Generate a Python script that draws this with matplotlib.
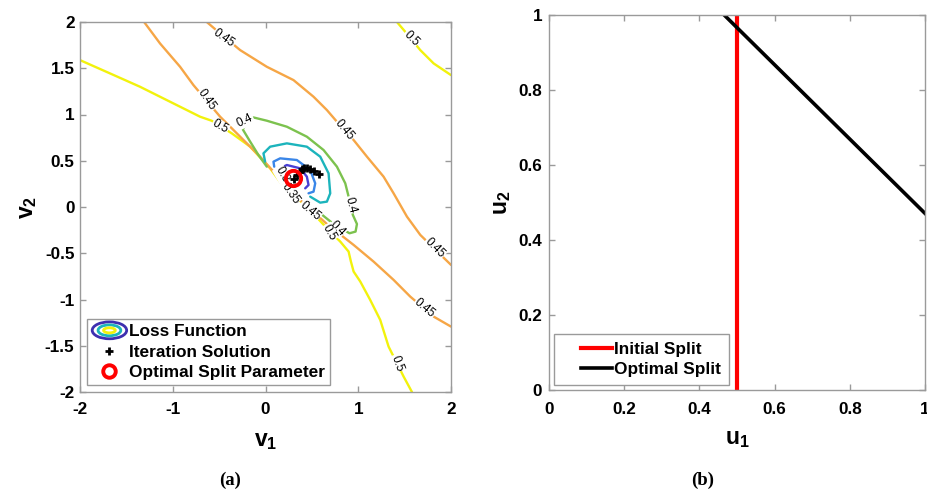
import matplotlib
matplotlib.use('Agg')
import matplotlib.pyplot as plt
from matplotlib.patches import Ellipse
from matplotlib.legend_handler import HandlerBase
from matplotlib.lines import Line2D

plt.rcParams['font.family'] = 'Liberation Sans'
plt.rcParams['mathtext.fontset'] = 'custom'
plt.rcParams['mathtext.bf'] = 'Liberation Sans:bold'
plt.rcParams['mathtext.rm'] = 'Liberation Sans:bold'
plt.rcParams['mathtext.it'] = 'Liberation Sans:bold'

# ---- panel (a): loss contours (v1, v2) ----
c050_a_x = [-2.0, -1.676, -1.353, -0.993, -0.705, -0.579, -0.363, -0.165, 0.050, 0.194, 0.446,
            0.662, 0.806, 0.896, 0.921, 0.950, 1.022, 1.129, 1.237, 1.327, 1.489, 1.579]
c050_a_y = [1.588, 1.444, 1.300, 1.120, 0.976, 0.932, 0.796, 0.652, 0.418, 0.220, 0.004,
            -0.230, -0.374, -0.482, -0.590, -0.698, -0.806, -1.005, -1.221, -1.509, -1.833, -2.0]
c050_b_x = [1.417, 1.507, 1.669, 1.813, 2.0]
c050_b_y = [2.0, 1.894, 1.696, 1.552, 1.426]

c045_a_x = [-0.633, -0.489, -0.273, 0.014, 0.302, 0.518, 0.662, 0.770, 0.950, 1.094,
            1.273, 1.381, 1.525, 1.669, 2.0]
c045_a_y = [2.0, 1.876, 1.696, 1.516, 1.372, 1.192, 1.048, 0.922, 0.724, 0.544,
            0.328, 0.148, -0.104, -0.302, -0.626]
c045_b_x = [-1.309, -1.137, -0.921, -0.777, -0.489, -0.273, -0.058, 0.086, 0.230, 0.446,
            0.662, 0.950, 1.165, 1.381, 1.561, 1.813, 2.0]
c045_b_y = [2.0, 1.768, 1.516, 1.318, 0.976, 0.760, 0.544, 0.382, 0.202, 0.011,
            -0.184, -0.410, -0.590, -0.788, -0.969, -1.185, -1.293]

c040_x = [0.014, -0.076, -0.165, -0.245, -0.183, -0.129, 0.014, 0.230, 0.446, 0.626, 0.770,
          0.860, 0.896, 0.942, 0.986, 0.971, 0.906, 0.734, 0.590, 0.446]
c040_y = [0.436, 0.562, 0.706, 0.839, 0.947, 0.968, 0.933, 0.868, 0.760, 0.616, 0.436,
          0.256, 0.112, -0.086, -0.184, -0.266, -0.284, -0.184, -0.068, 0.022]

c035_x = [-0.004, -0.022, 0.050, 0.230, 0.446, 0.590, 0.680, 0.698, 0.662, 0.590, 0.482]
c035_y = [0.490, 0.580, 0.652, 0.688, 0.652, 0.544, 0.364, 0.148, 0.058, 0.047, 0.112]

c030_x = [0.094, 0.086, 0.158, 0.338, 0.482, 0.536, 0.518, 0.464]
c030_y = [0.436, 0.490, 0.526, 0.508, 0.400, 0.256, 0.166, 0.148]

c025_x = [0.158, 0.230, 0.374, 0.446, 0.464, 0.428]
c025_y = [0.418, 0.454, 0.418, 0.328, 0.238, 0.202]

# contour labels: text, position, rotation
clabel_text = ['0.45', '0.45', '0.5', '0.45', '0.45', '0.45', '0.5', '0.5',
               '0.4', '0.4', '0.4', '0.5', '0.3', '0.35', '0.45']
clabel_x = [-0.446, -0.633, -0.489, 0.853, 1.824, 1.716, 1.572, 1.417,
            -0.219, 0.914, 0.777, 0.691, 0.176, 0.266, 0.482]
clabel_y = [1.822, 1.156, 0.868, 0.832, -0.446, -1.095, 1.822, -1.689,
            0.932, 0.022, -0.230, -0.274, 0.346, 0.148, -0.040]
clabel_rot = [-35, -55, -30, -50, -45, -40, -45, -70,
              25, -75, -45, -60, -60, -55, -40]

iter_v1 = [0.302, 0.338, 0.367, 0.392, 0.410, 0.446, 0.482, 0.518, 0.572]
iter_v2 = [0.299, 0.346, 0.382, 0.407, 0.425, 0.418, 0.407, 0.392, 0.356]
opt_v1 = [0.30]
opt_v2 = [0.31]

v_ticks_x = [-2, -1, 0, 1, 2]
v_ticks_y = [-2, -1.5, -1, -0.5, 0, 0.5, 1, 1.5, 2]

# ---- panel (b): split lines (u1, u2) ----
initial_u1 = [0.5, 0.5]
initial_u2 = [0.0, 1.0]
optimal_u1 = [0.466, 1.0]
optimal_u2 = [1.0, 0.471]
u_ticks = [0, 0.2, 0.4, 0.6, 0.8, 1]

col = {'0.25': '#4a40d4', '0.3': '#3a86e8', '0.35': '#1cb4bc',
       '0.4': '#7cc24e', '0.45': '#f6a646', '0.5': '#f2f20c'}
contours = [(c050_a_x, c050_a_y, '0.5'), (c050_b_x, c050_b_y, '0.5'),
            (c045_a_x, c045_a_y, '0.45'), (c045_b_x, c045_b_y, '0.45'),
            (c040_x, c040_y, '0.4'), (c035_x, c035_y, '0.35'),
            (c030_x, c030_y, '0.3'), (c025_x, c025_y, '0.25')]


class HandlerEllipses(HandlerBase):
    def create_artists(self, legend, orig_handle, xdescent, ydescent, width, height, fontsize, trans):
        cx = width / 2 - xdescent
        cy = height / 2 - ydescent
        arts = []
        for w, h, c in [(1.0, 1.4, '#3e2fb0'), (0.66, 0.9, '#1cb4bc'), (0.34, 0.42, '#f2f20c')]:
            arts.append(Ellipse((cx, cy), width * w, height * h, fill=False,
                                edgecolor=c, lw=2, transform=trans))
        return arts


class HandlerOffsetLine(HandlerBase):
    """MATLAB-like line sample with blank space before it."""
    def __init__(self, frac):
        super().__init__()
        self.frac = frac

    def create_artists(self, legend, orig_handle, xdescent, ydescent, width, height, fontsize, trans):
        y = height / 2 - ydescent
        ln = Line2D([-xdescent + width * self.frac, -xdescent + width], [y, y],
                    color=orig_handle.get_color(), lw=orig_handle.get_linewidth(),
                    transform=trans)
        return [ln]


def style_axes(ax, xticks, yticks, xpad, ypad):
    for s in ax.spines.values():
        s.set_color('#9a9a9a')
        s.set_linewidth(1.0)
    ax.set_xticks(xticks)
    ax.set_yticks(yticks)
    ax.set_xticklabels(['%g' % t for t in xticks], fontweight='bold')
    ax.set_yticklabels(['%g' % t for t in yticks], fontweight='bold')
    ax.tick_params(direction='in', top=True, right=True, length=4, width=1,
                   color='#9a9a9a', labelsize=12.3, labelcolor='black')
    ax.tick_params(axis='x', pad=xpad)
    ax.tick_params(axis='y', pad=ypad)


fig = plt.figure(figsize=(9.27, 4.93), dpi=100)
ax1 = fig.add_axes([80 / 927, 1 - 392 / 493, 371 / 927, 370 / 493])
ax2 = fig.add_axes([549 / 927, 1 - 390 / 493, 376 / 927, 375 / 493])

for xs, ys, lev in contours:
    ax1.plot(xs, ys, color=col[lev], lw=1.7, solid_capstyle='round', zorder=2)
for t, x, y, r in zip(clabel_text, clabel_x, clabel_y, clabel_rot):
    ax1.text(x, y, t, rotation=r, ha='center', va='center', fontsize=8.5,
             rotation_mode='anchor', zorder=3,
             bbox=dict(facecolor='white', edgecolor='none', pad=0.3))
ax1.plot(iter_v1, iter_v2, '+', color='black', ms=6, mew=2, zorder=4)
ax1.plot(opt_v1, opt_v2, 'o', mfc='none', mec='red', ms=11, mew=2.8, zorder=5)
ax1.set_xlim(-2, 2)
ax1.set_ylim(-2, 2)
style_axes(ax1, v_ticks_x, v_ticks_y, 7.5, 4)
ax1.set_xlabel(r'$\mathbf{v_1}$', fontsize=16.5)
ax1.set_ylabel(r'$\mathbf{v_2}$', fontsize=16.5)
ax1.xaxis.set_label_coords(0.5, -0.1)
ax1.yaxis.set_label_coords(-0.11, 0.5)

loss_proxy = Line2D([], [])
iter_h = Line2D([], [], ls='none', marker='+', color='black', ms=6, mew=2)
opt_h = Line2D([], [], ls='none', marker='o', mfc='none', mec='red', ms=9, mew=2.8)
leg1 = ax1.legend([loss_proxy, iter_h, opt_h],
                  ['Loss Function', 'Iteration Solution', 'Optimal Split Parameter'],
                  handler_map={loss_proxy: HandlerEllipses()},
                  loc='lower left', bbox_to_anchor=(0.019, 0.019), borderaxespad=0,
                  prop={'weight': 'bold', 'size': 12.4}, fancybox=False, framealpha=1,
                  edgecolor='#9a9a9a', labelspacing=0.3, handlelength=2.0,
                  handletextpad=0.15, borderpad=0.3)
leg1.get_frame().set_linewidth(1.0)

ax2.plot(initial_u1, initial_u2, color='#ff0000', lw=3, label='Initial Split')
ax2.plot(optimal_u1, optimal_u2, color='black', lw=2.6, label='Optimal Split')
ax2.set_xlim(0, 1)
ax2.set_ylim(0, 1)
style_axes(ax2, u_ticks, u_ticks, 8.5, 5)
ax2.set_xlabel(r'$\mathbf{u_1}$', fontsize=16.5)
ax2.set_ylabel(r'$\mathbf{u_2}$', fontsize=16.5)
ax2.xaxis.set_label_coords(0.5, -0.1)
ax2.yaxis.set_label_coords(-0.095, 0.5)
h_init, h_opt = ax2.get_lines()
leg2 = ax2.legend(handler_map={h_init: HandlerOffsetLine(0.38), h_opt: HandlerOffsetLine(0.38)},
                  loc='lower left', bbox_to_anchor=(0.013, 0.013), borderaxespad=0,
                  prop={'weight': 'bold', 'size': 12.4}, fancybox=False, framealpha=1,
                  edgecolor='#9a9a9a', labelspacing=0.3, handlelength=2.9,
                  handletextpad=0.15, borderpad=0.45)
leg2.get_frame().set_linewidth(1.0)

fig.text(230 / 927, 1 - 480 / 493, '(a)', ha='center', va='center',
         family='Liberation Serif', fontsize=13.5, fontweight='bold')
fig.text(703 / 927, 1 - 480 / 493, '(b)', ha='center', va='center',
         family='Liberation Serif', fontsize=13.5, fontweight='bold')

fig.savefig('out.png', dpi=100)
